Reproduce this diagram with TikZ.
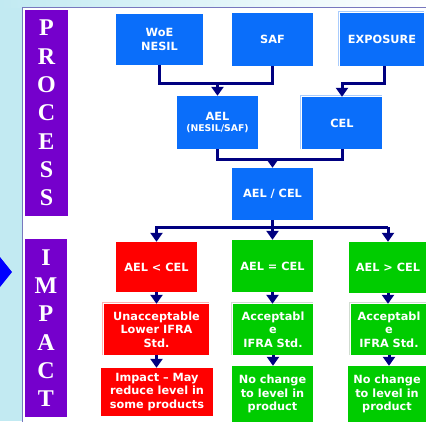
\documentclass[tikz,border=0pt]{standalone}
\usepackage{fontspec}
\setmainfont{DejaVu Sans}
\newfontfamily\barletters{Liberation Serif}
\usetikzlibrary{arrows.meta}
\definecolor{bgcyan}{RGB}{194,234,242}
\definecolor{boxblue}{RGB}{10,110,250}
\definecolor{boxred}{RGB}{255,0,0}
\definecolor{boxgreen}{RGB}{0,204,0}
\definecolor{barpurple}{RGB}{117,0,204}
\definecolor{navyline}{RGB}{0,0,128}
\definecolor{panelline}{RGB}{120,120,190}
\definecolor{arrowblue}{RGB}{0,0,255}
\begin{document}
\begin{tikzpicture}[x=1pt,y=-1pt,
  box/.style={inner sep=1pt, align=center, text=white, font=\bfseries\fontsize{11.3}{13.5}\selectfont},
  bluebox/.style={box, fill=boxblue},
  redbox/.style={box, fill=boxred},
  greenbox/.style={box, fill=boxgreen},
  bar/.style={fill=barpurple, text=white, align=center, inner sep=0pt,
    font=\barletters\bfseries\fontsize{24}{28.3}\selectfont},
  conn/.style={draw=navyline, line width=3pt},
  arr/.style={conn, -{Triangle[width=12pt,length=9pt]}},
  hl/.style={line width=0.8pt},
]
\useasboundingbox (0,0) rectangle (426,421);
% background
\fill[bgcyan] (0,0) rectangle (426,421);
\shade[left color=bgcyan, right color=white] (0,0) rectangle (426,7);
\fill[white] (22,8) rectangle (430,425);
\draw[panelline, line width=1.4pt] (22.5,425) -- (22.5,7.5) -- (430,7.5);
\fill[arrowblue] (0,257) -- (12,272) -- (0,287) -- cycle;

% side bars
\node[bar, minimum width=43pt, minimum height=206pt] (process) at (46.5,113) {P\\R\\O\\C\\E\\S\\S};
\node[bar, minimum width=42pt, minimum height=178pt] (impactbar) at (46,328) {I\\M\\P\\A\\C\\T};

% process boxes
\node[bluebox, minimum width=87pt, minimum height=51pt] (woe) at (159.5,39.5) {WoE\\NESIL};
\node[bluebox, minimum width=81pt, minimum height=53pt] (saf) at (272.5,39.5) {SAF};
\node[bluebox, minimum width=84pt, minimum height=53pt] (exposure) at (382,39.5) {EXPOSURE};
\node[bluebox, minimum width=81pt, minimum height=53pt] (ael) at (217.5,122.5) {AEL\\[-2pt]{\fontsize{9.3}{11}\selectfont(NESIL/SAF)}};
\node[bluebox, minimum width=80pt, minimum height=52pt] (cel) at (342,123) {CEL};
\node[bluebox, minimum width=81pt, minimum height=52pt] (aelcel) at (272.5,194) {AEL / CEL};

% impact row 1
\node[redbox, minimum width=81pt, minimum height=50pt] (lt) at (156.5,267) {AEL {<} CEL};
\node[greenbox, minimum width=81pt, minimum height=52pt] (eq) at (272.5,266) {AEL = CEL};
\node[greenbox, minimum width=78pt, minimum height=51pt] (gt) at (388,267.5) {AEL {>} CEL};
% impact row 2
\node[redbox, minimum width=105pt, minimum height=51pt] (unacc) at (156.5,329.5) {Unacceptable\\Lower IFRA\\Std.};
\node[greenbox, minimum width=80pt, minimum height=51pt] (acc1) at (273,329.5) {Acceptabl\\e\\IFRA Std.};
\node[greenbox, minimum width=76pt, minimum height=51pt] (acc2) at (389,329.5) {Acceptabl\\e\\IFRA Std.};
% impact row 3
\node[redbox, minimum width=112pt, minimum height=48pt] (impact) at (157,392) {Impact -- May\\reduce level in\\some products};
\node[greenbox, minimum width=81pt, minimum height=56pt] (nc1) at (272.5,394) {No change\\to level in\\product};
\node[greenbox, minimum width=78pt, minimum height=56pt] (nc2) at (387,394) {No change\\to level in\\product};

% highlight edges
\draw[hl, draw=boxblue!35] ([xshift=-1.6pt]exposure.south west) |- ([yshift=1.6pt]exposure.north east);
\draw[hl, draw=boxblue!35] ([xshift=-1.6pt]cel.south west) |- ([yshift=1.6pt]cel.north east);
\draw[hl, draw=boxred!30] ([xshift=-1.6pt]unacc.south west) |- ([yshift=1.6pt]unacc.north east);
\draw[hl, draw=boxgreen!20!gray!30] ([xshift=-1.6pt]acc1.south west) |- ([yshift=1.6pt]acc1.north east);
\draw[hl, draw=boxgreen!20!gray!30] ([xshift=-1.6pt]acc2.south west) |- ([yshift=1.6pt]acc2.north east);

% connectors
\coordinate (ja) at (0,83);
\coordinate (jc) at (0,159);
\coordinate (jd) at (0,227);
\draw[conn] (woe.south) |- (saf.south |- ja) -- (saf.south);
\draw[arr] (ael.north |- ja) -- (ael.north);
\draw[arr] ([xshift=2pt]exposure.south) |- (cel.north |- ja) -- (cel.north);
\draw[conn] (ael.south) |- (cel.south |- jc) -- (cel.south);
\draw[arr] (aelcel.north |- jc) -- (aelcel.north);
\draw[arr] (gt.north |- jd) -- (lt.north |- jd) -- (lt.north);
\draw[arr] (gt.north |- jd) -- (gt.north);
\draw[arr] (aelcel.south) -- (eq.north);
\draw[arr] (lt.south) -- (lt.south |- unacc.north);
\draw[arr] (eq.south) -- (eq.south |- acc1.north);
\draw[arr] (gt.south) -- (gt.south |- acc2.north);
\draw[arr] (unacc.south) -- (unacc.south |- impact.north);
\draw[arr] (acc1.south) -- (acc1.south |- nc1.north);
\draw[arr] (acc2.south) -- (acc2.south |- nc2.north);
\end{tikzpicture}
\end{document}
